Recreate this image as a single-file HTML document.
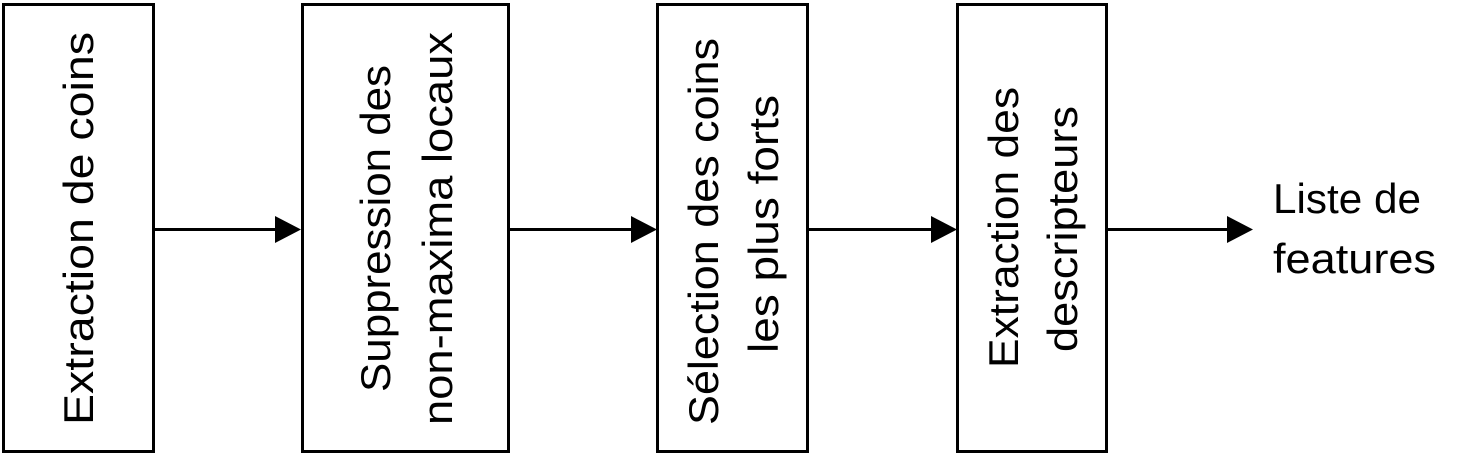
<!DOCTYPE html>
<html><head><meta charset="utf-8"><style>html,body{margin:0;padding:0;background:#fff}svg{display:block}</style></head>
<body>
<svg width="1469" height="456" viewBox="0 0 1469 456" xmlns="http://www.w3.org/2000/svg" font-family="Liberation Sans, sans-serif" font-size="42" fill="#000">
<g fill="none" stroke="#000" stroke-width="3">
<rect x="3.5" y="4.5" width="150" height="447"/>
<rect x="302.5" y="4.5" width="206" height="447"/>
<rect x="657.5" y="4.5" width="150" height="447"/>
<rect x="957.5" y="4.5" width="149" height="447"/>
<line x1="155" y1="229.5" x2="278" y2="229.5"/>
<line x1="510" y1="229.5" x2="634" y2="229.5"/>
<line x1="809" y1="229.5" x2="934" y2="229.5"/>
<line x1="1108" y1="229.5" x2="1230" y2="229.5"/>
</g>
<polygon points="275,216 301,229.5 275,243"/>
<polygon points="631,216 657,229.5 631,243"/>
<polygon points="931,216 957,229.5 931,243"/>
<polygon points="1227,216 1253,229.5 1227,243"/>
<text transform="translate(93,425) rotate(-90)" textLength="393" lengthAdjust="spacingAndGlyphs">Extraction de coins</text>
<text transform="translate(390,392) rotate(-90)" textLength="327" lengthAdjust="spacingAndGlyphs">Suppression des</text>
<text transform="translate(452,425) rotate(-90)" textLength="393" lengthAdjust="spacingAndGlyphs">non-maxima locaux</text>
<text transform="translate(718,425) rotate(-90)" textLength="387" lengthAdjust="spacingAndGlyphs">Sélection des coins</text>
<text transform="translate(778,353) rotate(-90)" textLength="258" lengthAdjust="spacingAndGlyphs">les plus forts</text>
<text transform="translate(1018,368) rotate(-90)" textLength="281" lengthAdjust="spacingAndGlyphs">Extraction des</text>
<text transform="translate(1077,352) rotate(-90)" textLength="246" lengthAdjust="spacingAndGlyphs">descripteurs</text>
<text x="1273" y="213" textLength="148" lengthAdjust="spacingAndGlyphs">Liste de</text>
<text x="1273" y="273" textLength="163" lengthAdjust="spacingAndGlyphs">features</text>
</svg>
</body></html>
